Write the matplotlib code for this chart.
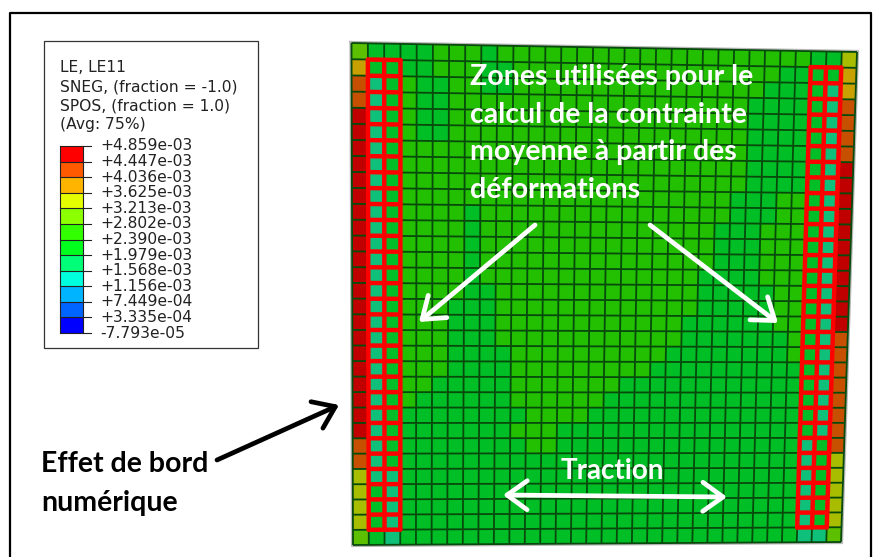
import numpy as np
import matplotlib
matplotlib.use("Agg")
import matplotlib.pyplot as plt
from matplotlib.colors import ListedColormap

# legend
legend_title = ["LE, LE11", "SNEG, (fraction = -1.0)", "SPOS, (fraction = 1.0)", "(Avg: 75%)"]
legend_labels = ["+4.859e-03", "+4.447e-03", "+4.036e-03", "+3.625e-03", "+3.213e-03",
                 "+2.802e-03", "+2.390e-03", "+1.979e-03", "+1.568e-03", "+1.156e-03",
                 "+7.449e-04", "+3.335e-04", "-7.793e-05"]
legend_colors = ["#ff0000", "#ff5a00", "#ffb400", "#e6ff00", "#8cff00", "#32ff00",
                 "#00ff1e", "#00ff78", "#00ffdc", "#00b4ff", "#0064ff", "#0000ff"]

# colours of the deformed mesh
codes = "roaylgGt"
mesh_colors = ["#c00000", "#c65000", "#c8a000", "#a8bc00", "#5cc000",
               "#22c000", "#00be25", "#0fc07a"]

# border columns, top row first
col0 = "lao" + "o" + "r" * 21 + "oo" + "yyyy" + "l"
col1 = "GG" + "t" * 26 + "GGGG"
col2 = "G" * 27 + "ttttt"
col29 = "G" * 25 + "t" * 7
col30 = "GG" + "t" * 23 + "G" * 6 + "t"
col31 = "yaa" + "oooo" + "r" * 11 + "o" * 8 + "yyyyy" + "l"

# darker green runs (first col, last col) per row, for the inner columns
dark_runs = [
    [(3, 4), (8, 8)],
    [(3, 4), (8, 9), (27, 28)],
    [(4, 5), (8, 9), (26, 28)],
    [(4, 5), (25, 28)],
    [(4, 5), (25, 28)],
    [(4, 5), (25, 28)],
    [(25, 28)],
    [(25, 28)],
    [(25, 28)],
    [(24, 26)],
    [(7, 7), (24, 26)],
    [(7, 7), (23, 25)],
    [(7, 7), (23, 25)],
    [(7, 7), (23, 25)],
    [(7, 7), (22, 25)],
    [(7, 8), (22, 26)],
    [(6, 8), (22, 26)],
    [(6, 8), (21, 26)],
    [(6, 8), (21, 27)],
    [(6, 9), (20, 27)],
    [(6, 9), (19, 28)],
    [(5, 9), (17, 28)],
    [(4, 9), (16, 28)],
    [(3, 10), (15, 28)],
    [(3, 9), (13, 28)],
    [(3, 10), (13, 28)],
    [(3, 28)],
    [(3, 28)],
    [(3, 28)],
    [(3, 28)],
    [(3, 28)],
    [(3, 28)],
]

zone_lines = ["Zones utilisées pour le", "calcul de la contrainte",
              "moyenne à partir des", "déformations"]
edge_lines = ["Effet de bord", "numérique"]
load_label = "Traction"

n = 32
grid = np.full((n, n), codes.index("g"))
for r, runs in enumerate(dark_runs):
    for a, b in runs:
        grid[r, a:b + 1] = codes.index("G")
for c, col in [(0, col0), (1, col1), (2, col2), (29, col29), (30, col30), (31, col31)]:
    grid[:, c] = [codes.index(k) for k in col]

fig = plt.figure(figsize=(8.8, 5.57), dpi=100)
ax = fig.add_axes([0, 0, 1, 1])
ax.set_xlim(0, 880)
ax.set_ylim(557, 0)
ax.axis("off")

# outer frame
ax.plot([10, 10, 871, 871], [557, 13, 13, 557], color="black", lw=1.6)

# mesh nodes from the four corners, cells get slightly smaller to the right and down
steps = np.concatenate([[0], np.cumsum(np.linspace(16.1, 15.0, n))])
steps = steps / steps[-1]
u, v = np.meshgrid(steps, steps)
tl, tr, br, bl = (351.5, 43), (857, 52), (841, 542), (353, 545)
X = (1 - v) * ((1 - u) * tl[0] + u * tr[0]) + v * ((1 - u) * bl[0] + u * br[0])
Y = (1 - v) * ((1 - u) * tl[1] + u * tr[1]) + v * ((1 - u) * bl[1] + u * br[1])

ax.plot([tl[0] - 1, tr[0] + 1, br[0] + 1, bl[0] - 1, tl[0] - 1],
        [tl[1] - 1, tr[1] - 1, br[1] + 1, bl[1] + 1, tl[1] - 1], color="#b8b8b8", lw=1.6)
ax.pcolormesh(X, Y, grid, cmap=ListedColormap(mesh_colors), vmin=-0.5, vmax=len(codes) - 0.5)
for r in range(n + 1):
    ax.plot(X[r], Y[r], color="#074a0c", lw=1.3, solid_capstyle="butt")
for c in range(n + 1):
    ax.plot(X[:, c], Y[:, c], color="#074a0c", lw=1.3, solid_capstyle="butt")

# red element sets
for c0, c1 in [(1, 3), (29, 31)]:
    for r in range(1, 32):
        ax.plot(X[r, c0:c1 + 1], Y[r, c0:c1 + 1], color="#ff0000", lw=3.2, solid_capstyle="round")
    for c in range(c0, c1 + 1):
        ax.plot(X[1:32, c], Y[1:32, c], color="#ff0000", lw=3.2, solid_capstyle="round")

# legend box
ax.fill([44, 258, 258, 44], [41, 41, 348, 348], facecolor="white", edgecolor="#333333", lw=0.9)
for i, line in enumerate(legend_title):
    ax.text(60, 68 + i * 19, line, fontsize=11.2, family="DejaVu Sans", color="#222222", va="center")
bar_y = np.linspace(146, 333, len(legend_labels))
ax.pcolormesh([60, 83], bar_y, np.arange(len(legend_colors)).reshape(-1, 1),
              cmap=ListedColormap(legend_colors))
for y, lab in zip(bar_y, legend_labels):
    ax.plot([60, 91], [y, y], color="#222222", lw=0.8)
    ax.text(100, y, lab, fontsize=11.2, family="DejaVu Sans", color="#222222", va="center")
ax.plot([60, 60], [146, 333], color="#222222", lw=0.8)
ax.plot([83, 83], [146, 333], color="#222222", lw=0.8)

# labels
for i, line in enumerate(zone_lines):
    ax.text(470, 77 + i * 37.7, line, fontsize=20.5, family="Lato", weight="bold", color="white", va="center")
for i, line in enumerate(edge_lines):
    ax.text(41, 464 + i * 38.5, line, fontsize=20.5, family="Lato", weight="bold", color="black", va="center")
ax.text(612, 471, load_label, fontsize=20, family="Lato", weight="bold", color="white", va="center", ha="center")


def arrow(start, tip, color, style="->"):
    ax.annotate("", xy=tip, xytext=start,
                arrowprops=dict(arrowstyle=style + ",head_length=1.0,head_width=0.72", color=color,
                                lw=3.4, mutation_scale=14.5, shrinkA=0, shrinkB=0))


arrow((535, 225), (419, 322), "white")
arrow((650, 225), (778, 323), "white")
arrow((503, 495), (727, 497), "white", "<->")
arrow((217, 460), (339, 405), "black")

fig.savefig("out.png", dpi=100)
